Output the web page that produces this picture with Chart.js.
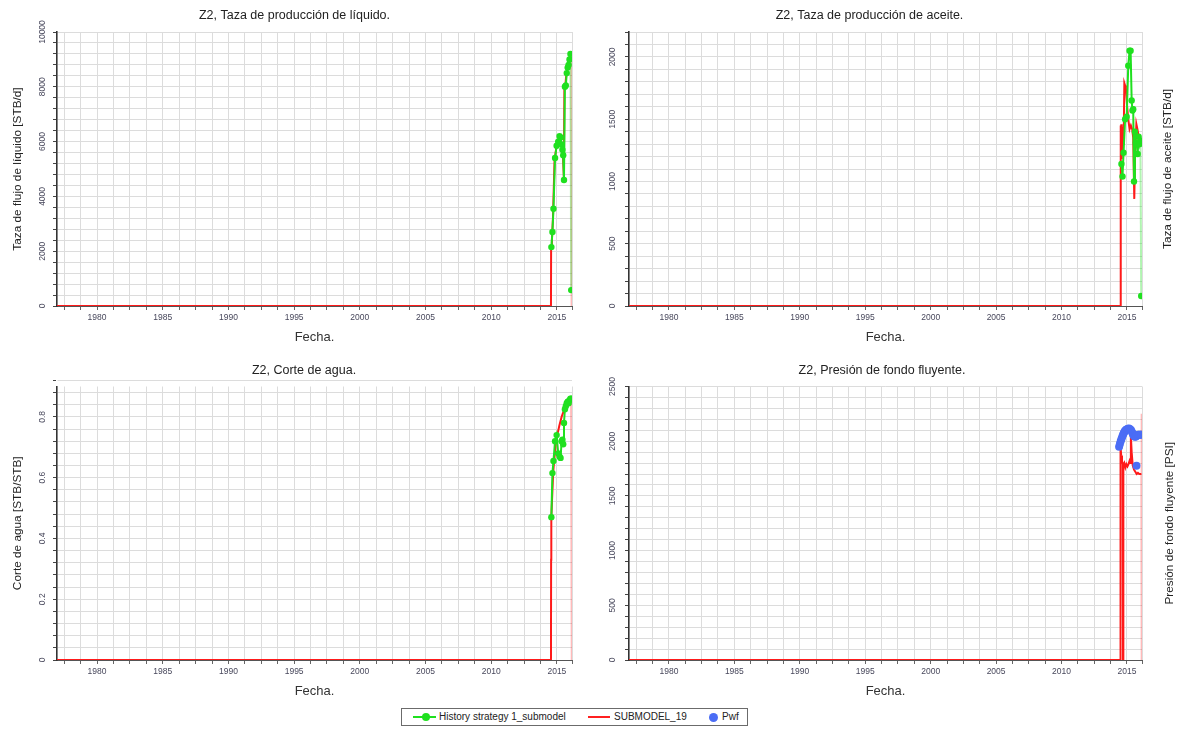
<!DOCTYPE html>
<html>
<head>
<meta charset="utf-8">
<script src="https://cdn.jsdelivr.net/npm/chart.js@4.4.1/dist/chart.umd.min.js"></script>
<style>
  html, body { margin: 0; padding: 0; background: #fff; }
  body { width: 1188px; height: 730px; position: relative; overflow: hidden;
         font-family: 'Liberation Sans', Arial, sans-serif; }
  canvas { position: absolute; }
  .legend { position: absolute; left: 401px; top: 708px; width: 347px; height: 18px;
            border: 1px solid #6b6b6b; box-sizing: border-box; font-size: 10px; color: #222; }
  .legend span { position: absolute; top: 2px; white-space: nowrap; }
  .legend i { position: absolute; display: block; }
</style>
</head>
<body>
<canvas id="c1" width="594" height="350" style="left:0;top:0"></canvas>
<canvas id="c2" width="594" height="350" style="left:594px;top:0"></canvas>
<canvas id="c3" width="594" height="350" style="left:0;top:350px"></canvas>
<canvas id="c4" width="594" height="350" style="left:594px;top:350px"></canvas>

<div class="legend">
  <i style="left:11px;top:7px;width:23px;height:2px;background:#1fe01f"></i>
  <i style="left:20px;top:4px;width:8px;height:8px;border-radius:50%;background:#1fe01f"></i>
  <span style="left:37px">History strategy 1_submodel</span>
  <i style="left:186px;top:7px;width:22px;height:2px;background:#ff2020"></i>
  <span style="left:212px">SUBMODEL_19</span>
  <i style="left:307px;top:4px;width:9px;height:9px;border-radius:50%;background:#4b6df5"></i>
  <span style="left:320px">Pwf</span>
</div>

<script>
// ---- time axis (decimal years) ----
const X_MIN = 1976.95;
const X_MAX = 2016.15;
const yearLabels = [1980, 1985, 1990, 1995, 2000, 2005, 2010, 2015];

// ---- measured history (History strategy 1_submodel) ----
const histDates = [2014.58, 2014.66, 2014.74, 2014.86, 2014.98, 2015.10, 2015.20, 2015.28, 2015.36, 2015.42,
                   2015.48, 2015.54, 2015.61, 2015.68, 2015.75, 2015.82, 2015.89, 2015.96, 2016.03, 2016.09];
const histLiquid = [2150, 2700, 3550, 5400, 5850, 6000, 6200, 6150, 5900, 5700,
                    5500, 4600, 8000, 8050, 8500, 8700, 8800, 9000, 9200, 580];
const histOil = [1140, 1040, 1230, 1500, 1520, 1930, 2050, 2050, 1650, 1570,
                 1580, 1000, 1400, 1310, 1300, 1220, 1360, 1300, 1330, 80];
const histWcut = [0.47, 0.615, 0.655, 0.72, 0.74, 0.68, 0.67, 0.665, 0.72, 0.725,
                  0.71, 0.78, 0.825, 0.835, 0.845, 0.85, 0.845, 0.855, 0.86, 0.86];

// ---- simulation (SUBMODEL_19) ----
const simLiquidDates = [X_MIN, 2014.55, 2014.56, 2014.62, 2014.70, 2014.82, 2014.96, 2015.08, 2015.18, 2015.28,
                        2015.38, 2015.46, 2015.53, 2015.57, 2015.64, 2015.72, 2015.82, 2015.92, 2016.02, 2016.10, 2016.12];
const simLiquid = [0, 0, 2150, 2400, 3200, 5300, 5800, 6050, 6150, 6100,
                   5800, 5500, 4700, 7900, 8050, 8450, 8700, 8900, 9150, 9200, 0];

const simOilDates = [X_MIN, 2014.50, 2014.51, 2014.54, 2014.57, 2014.60, 2014.63, 2014.66, 2014.69, 2014.72,
                     2014.76, 2014.80, 2014.86, 2014.92, 2015.00, 2015.10, 2015.20, 2015.30, 2015.40, 2015.48,
                     2015.56, 2015.62, 2015.72, 2015.80, 2015.90, 2016.00, 2016.08];
const simOil = [0, 0, 1450, 1200, 1460, 1180, 1430, 1250, 1440, 1300,
                1420, 1790, 1770, 1750, 1620, 1500, 1420, 1450, 1420, 1350,
                860, 1200, 1460, 1420, 1360, 1320, 1300];

const simWcutDates = [X_MIN, 2014.55, 2014.56, 2014.57, 2014.58, 2014.72, 2014.93, 2015.18, 2015.36, 2015.61,
                      2015.94, 2016.08, 2016.13];
const simWcut = [0, 0, 0.33, 0.33, 0.47, 0.62, 0.72, 0.77, 0.80, 0.83, 0.852, 0.86, 0];

const simPwfDates = [X_MIN, 2014.50, 2014.51, 2014.56, 2014.62, 2014.68, 2014.70, 2014.71, 2014.74, 2014.80,
                     2014.88, 2014.96, 2015.04, 2015.12, 2015.20, 2015.26, 2015.30, 2015.36, 2015.44, 2015.54,
                     2015.64, 2015.74, 2015.84, 2015.94, 2016.04, 2016.10, 2016.12, 2016.13];
const simPwf = [0, 0, 1950, 1870, 1820, 1790, 0, 1790, 1780, 1800,
                1760, 1790, 1770, 1790, 1820, 1800, 2040, 1900, 1780, 1740,
                1720, 1700, 1710, 1700, 1700, 1700, 2250, 0];

// ---- measured bottom-hole flowing pressure (Pwf) ----
const pwfDates = [2014.40, 2014.46, 2014.52, 2014.58, 2014.64, 2014.70, 2014.76, 2014.82, 2014.88, 2014.94,
                  2015.00, 2015.08, 2015.16, 2015.24, 2015.32, 2015.40, 2015.46, 2015.52, 2015.58, 2015.64,
                  2015.70, 2015.73, 2015.78, 2015.86, 2015.94, 2016.02, 2016.08];
const pwfValues = [1950, 1975, 2000, 2020, 2040, 2060, 2075, 2088, 2098, 2105,
                   2110, 2113, 2115, 2110, 2100, 2080, 2062, 2050, 2042, 2040,
                   2045, 1775, 2052, 2058, 2060, 2058, 2060];

// ---- y tick labels ----
const yLabelsLiquid = [0, 2000, 4000, 6000, 8000, 10000];
const yLabelsOil = [0, 500, 1000, 1500, 2000];
const yLabelsWcut = [0, 0.2, 0.4, 0.6, 0.8];
const yLabelsPwf = [0, 500, 1000, 1500, 2000, 2500];

const FONT = "'Liberation Sans', Arial, sans-serif";
const GREEN = '#1fe01f', GREEN_FADE = 'rgba(31,224,31,0.35)';
const RED = '#ff1a1a', RED_FADE = 'rgba(255,26,26,0.3)';
const BLUE = '#4b6df5';
const GRID = '#dcdcdc';
const TICK_TEXT = '#48485c';

const pts = (xs, ys) => xs.map((x, i) => ({ x, y: ys[i] }));
const fadeFrom = (idx, color) => ctx => (ctx.p1DataIndex >= idx ? color : undefined);

function histSet(values) {
  return {
    label: 'History strategy 1_submodel', data: pts(histDates, values),
    borderColor: GREEN, backgroundColor: GREEN, borderWidth: 2,
    pointRadius: 3.2, pointBorderWidth: 0, pointBackgroundColor: GREEN,
    segment: { borderColor: fadeFrom(values.length - 1, GREEN_FADE) }
  };
}
function simSet(dates, values, fadeIdx) {
  return {
    label: 'SUBMODEL_19', data: pts(dates, values),
    borderColor: RED, borderWidth: 2, pointRadius: 0,
    segment: { borderColor: fadeFrom(fadeIdx, RED_FADE) }
  };
}

// rotated y tick labels and axis titles
const sideText = {
  id: 'sideText',
  afterDraw(chart, args, o) {
    const { ctx, chartArea } = chart;
    const y = chart.scales.y;
    ctx.save();
    ctx.textAlign = 'center';
    ctx.textBaseline = 'middle';
    ctx.fillStyle = TICK_TEXT;
    ctx.font = '8.5px ' + FONT;
    o.labels.forEach(v => {
      ctx.save();
      ctx.translate(chartArea.left - o.tickGap, y.getPixelForValue(v));
      ctx.rotate(-Math.PI / 2);
      ctx.fillText(String(v), 0, 0);
      ctx.restore();
    });
    ctx.fillStyle = '#222';
    ctx.font = o.titleSize + 'px ' + FONT;
    ctx.translate(o.titleX, (chartArea.top + chartArea.bottom) / 2);
    ctx.rotate(-Math.PI / 2);
    ctx.fillText(o.title, 0, 0);
    ctx.restore();
  }
};

function makePanel(id, c) {
  return new Chart(document.getElementById(id), {
    type: 'line',
    data: { datasets: c.datasets },
    options: {
      responsive: false, animation: false, devicePixelRatio: 1,
      layout: { padding: { left: c.padL, right: c.padR, top: 0, bottom: 0 } },
      elements: { line: { tension: 0 } },
      plugins: {
        legend: { display: false },
        tooltip: { enabled: false },
        title: {
          display: true, text: c.title, color: '#222',
          font: { family: FONT, size: 12.5, weight: 'normal' },
          padding: { top: c.titleTop, bottom: c.titleBottom }
        },
        sideText: { labels: c.yLabels, tickGap: c.tickGap, title: c.yTitle, titleX: c.yTitleX, titleSize: 11.8 }
      },
      scales: {
        x: {
          type: 'linear', min: X_MIN, max: X_MAX,
          afterBuildTicks: s => {
            const t = [];
            for (let k = 0; k <= 30; k++) t.push({ value: 1977.5 + 1.25 * k });
            t.push({ value: X_MAX });
            s.ticks = t;
          },
          afterFit: s => { s.height = c.xHeight; },
          grid: { color: GRID, lineWidth: 1, tickLength: 4, tickColor: '#666', tickWidth: 1 },
          border: { color: '#555', width: 1 },
          ticks: {
            autoSkip: false, maxRotation: 0, minRotation: 0, padding: 3, color: TICK_TEXT,
            font: { family: FONT, size: 8.5 },
            callback: v => (yearLabels.includes(v) ? String(v) : '')
          },
          title: {
            display: true, text: 'Fecha.', color: '#333',
            font: { family: FONT, size: 13 }, padding: { top: 0, bottom: c.fechaPad }
          }
        },
        y: {
          type: 'linear', min: 0, max: c.yMax,
          afterBuildTicks: s => {
            const t = [];
            const n = Math.round(c.yMax / c.yStep);
            for (let k = 0; k <= n; k++) t.push({ value: Math.round(k * c.yStep * 1000) / 1000 });
            if (t[t.length - 1].value < c.yMax) t.push({ value: c.yMax });
            s.ticks = t;
          },
          afterFit: s => { s.width = c.yWidth; },
          ticks: { display: false },
          grid: { color: GRID, lineWidth: 1, tickLength: 4, tickColor: '#444', tickWidth: 1 },
          border: { color: '#333', width: 1.6 }
        }
      }
    },
    plugins: [sideText]
  });
}

makePanel('c1', {
  title: 'Z2, Taza de producción de líquido.',
  datasets: [histSet(histLiquid), simSet(simLiquidDates, simLiquid, simLiquid.length - 1)],
  padL: 17, padR: 22, yWidth: 40, titleTop: 8, titleBottom: 9,
  xHeight: 44, fechaPad: 5, yMax: 10000, yStep: 400,
  yLabels: yLabelsLiquid, tickGap: 14, yTitle: 'Taza de flujo de líquido [STB/d]', yTitleX: 18
});

makePanel('c2', {
  title: 'Z2, Taza de producción de aceite.',
  datasets: [histSet(histOil), simSet(simOilDates, simOil, simOil.length)],
  padL: 3, padR: 46, yWidth: 32, titleTop: 8, titleBottom: 9,
  xHeight: 44, fechaPad: 5, yMax: 2200, yStep: 100,
  yLabels: yLabelsOil, tickGap: 16, yTitle: 'Taza de flujo de aceite [STB/d]', yTitleX: 574
});

makePanel('c3', {
  title: 'Z2, Corte de agua.',
  datasets: [histSet(histWcut), simSet(simWcutDates, simWcut, simWcut.length - 1)],
  padL: 36, padR: 22, yWidth: 21, titleTop: 13, titleBottom: 8.5,
  xHeight: 40, fechaPad: 1, yMax: 0.9, yStep: 0.04,
  yLabels: yLabelsWcut, tickGap: 14, yTitle: 'Corte de agua [STB/STB]', yTitleX: 18
});

makePanel('c4', {
  title: 'Z2, Presión de fondo fluyente.',
  datasets: [
    { label: 'Pwf', data: pts(pwfDates, pwfValues), showLine: false,
      pointRadius: 4, pointBorderWidth: 0, pointBackgroundColor: BLUE, borderColor: BLUE },
    simSet(simPwfDates, simPwf, simPwf.length - 2)
  ],
  padL: 28, padR: 46, yWidth: 7, titleTop: 13, titleBottom: 8.5,
  xHeight: 40, fechaPad: 1, yMax: 2500, yStep: 100,
  yLabels: yLabelsPwf, tickGap: 16, yTitle: 'Presión de fondo fluyente [PSI]', yTitleX: 576
});
</script>
</body>
</html>
